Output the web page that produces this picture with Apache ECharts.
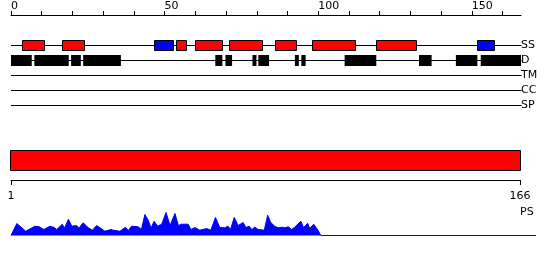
<!DOCTYPE html>
<html><head><meta charset="utf-8">
<script src="https://cdn.jsdelivr.net/npm/echarts@6/dist/echarts.min.js"></script>
<style>html,body{margin:0;padding:0;background:#fff}#c{width:550px;height:260px}</style>
</head><body><div id="c"></div>
<script>
// ---- data ----
const seqLength = 166;
const tracks = ['SS', 'D', 'TM', 'CC', 'SP'];
const topTicks = [0, 10, 20, 30, 40, 50, 60, 70, 80, 90, 100, 110, 120, 130, 140, 150, 160];
const topLabels = [0, 50, 100, 150];
const ssHelix = [[3.7, 10.7], [16.7, 23.6], [53.6, 57.0], [59.8, 68.7], [70.9, 81.6], [85.8, 92.7], [97.9, 111.9], [118.8, 131.8]];
const ssStrand = [[46.7, 52.7], [151.7, 157.1]];
const disorder = [[0, 6.75], [7.6, 18.8], [19.56, 22.73], [23.48, 35.77], [66.5, 68.8], [69.8, 71.96], [78.6, 79.9], [80.5, 84.0],
  [92.4, 93.7], [94.5, 95.9], [108.6, 118.9], [132.8, 136.9], [144.8, 151.8], [152.9, 166]];
const domainRange = [1, 166];
const domainLabels = [1, 166];
const psPos = [0, 1.9, 4.8, 7.8, 9.2, 10.7, 12.7, 14.1, 14.9, 16.7, 17.4, 18.7, 19.8, 21.4, 22.1, 23.5, 25.2, 26.5, 27.9, 30.6, 32.6, 33.3, 33.9, 35.5,
  37.3, 38.2, 39.3, 41.4, 42.5, 43.6, 44.7, 45.6, 46.6, 47.8, 49.1, 50.5, 51.8, 53.4, 54.5, 55.6, 57.7, 58.6, 59.9, 61.5, 63.7, 65.1, 66.6,
  68.0, 69.6, 70.7, 71.5, 72.7, 74.0, 75.6, 76.5, 77.6, 78.4, 79.4, 80.5, 82.5, 83.6, 84.6, 85.9, 87.0, 88.4, 89.2, 90.3, 91.4, 92.4, 93.0,
  94.4, 95.3, 96.6, 97.3, 98.6, 100.0, 100.9, 171];
const psVal = [0, 12, 4.3, 9.3, 8.7, 6, 9.3, 8, 6, 11.3, 7.3, 16.3, 9.3, 10, 7.3, 12.7, 7.7, 5.3, 10, 4.3, 6, 5.3, 4.3, 4.3,
  8.3, 5, 9.3, 8.7, 6, 21, 15.3, 7.3, 14.3, 9.3, 11.3, 23, 10, 22, 10, 11.3, 11.3, 6, 8, 5.3, 7, 5.3, 18,
  8, 7.7, 9.3, 6, 18, 10, 13, 8, 9.3, 6, 8.3, 6, 5.3, 20.3, 13, 9.3, 7.7, 8.3, 7.7, 8.7, 6, 8.3, 7,
  14.3, 7.7, 12.3, 7, 11.3, 5.3, 0, 0];

// ---- chart ----
const FONT = 'DejaVu Sans';
const chart = echarts.init(document.getElementById('c'), null, {renderer: 'canvas'});

function trackLine(params, api) {
  const a = api.coord([api.value(0), api.value(2)]);
  const b = api.coord([api.value(1), api.value(2)]);
  const y = Math.floor(a[1]) + 0.5;
  return {type: 'line', shape: {x1: a[0], y1: y, x2: b[0] + 0.5, y2: y}, style: {stroke: '#000', lineWidth: 1}};
}
function ssBox(params, api) {
  const a = api.coord([api.value(0), api.value(2)]);
  const b = api.coord([api.value(1), api.value(2)]);
  const cy = Math.floor(a[1]);
  const x = Math.round(a[0]) + 0.5, x2 = Math.round(b[0]) + 0.5;
  return {type: 'rect', shape: {x: x, y: cy - 4.5, width: x2 - x, height: 10},
    style: {fill: api.value(3) === 1 ? '#0000ff' : '#ff0000', stroke: '#000', lineWidth: 1}};
}
function dBox(params, api) {
  const a = api.coord([api.value(0), api.value(2)]);
  const b = api.coord([api.value(1), api.value(2)]);
  const cy = Math.floor(a[1]);
  return {type: 'rect', shape: {x: a[0], y: cy - 5, width: b[0] - a[0], height: 11}, style: {fill: '#000'}};
}
function domainBar(params, api) {
  const a = api.coord([api.value(0), 0.5]);
  const b = api.coord([api.value(1), 20.5]);
  const x = Math.round(a[0]) - 0.5, x2 = Math.round(b[0]) + 0.5;
  return {type: 'rect', shape: {x: x, y: a[1], width: x2 - x, height: b[1] - a[1]},
    style: {fill: '#ff0000', stroke: '#000', lineWidth: 1}};
}

const ssData = ssHelix.map(d => [d[0], d[1], 0, 0]).concat(ssStrand.map(d => [d[0], d[1], 0, 1]));
const dData = disorder.map(d => [d[0], d[1], 1]);
const lineData = tracks.map((t, i) => [0, seqLength, i]);

chart.setOption({
  animation: false,
  backgroundColor: '#fff',
  textStyle: {fontFamily: FONT},
  title: {text: 'PS', left: 520, top: 207, padding: 0,
    textStyle: {fontSize: 11, fontWeight: 'normal', color: '#000', fontFamily: FONT}},
  grid: [
    {left: 11, width: 510, top: 38, height: 75},
    {left: 11, width: 509, top: 150, height: 30},
    {left: 11, right: 14, top: 210.5, height: 25}
  ],
  xAxis: [
    {gridIndex: 0, type: 'value', position: 'top', offset: 23, min: 0, max: seqLength,
      axisLine: {show: true, onZero: false, lineStyle: {color: '#000', width: 1}},
      axisTick: {show: true, customValues: topTicks, length: 4, lineStyle: {color: '#000', width: 1}},
      axisLabel: {customValues: topLabels, align: 'left', margin: 3, color: '#000', fontSize: 11, fontFamily: FONT},
      splitLine: {show: false}},
    {gridIndex: 1, type: 'value', position: 'bottom', min: domainRange[0], max: domainRange[1],
      axisLine: {show: true, onZero: false, lineStyle: {color: '#000', width: 1}},
      axisTick: {show: true, customValues: domainLabels, length: 5, lineStyle: {color: '#000', width: 1}},
      axisLabel: {customValues: domainLabels, margin: 11, color: '#000', fontSize: 11, fontFamily: FONT},
      splitLine: {show: false}},
    {gridIndex: 2, type: 'value', min: 0, max: psPos[psPos.length - 1], show: false, splitLine: {show: false}}
  ],
  yAxis: [
    {gridIndex: 0, type: 'category', data: tracks, inverse: true, position: 'right',
      axisLine: {show: false}, axisTick: {show: false}, splitLine: {show: false},
      axisLabel: {margin: 0, color: '#000', fontSize: 11, fontFamily: FONT}},
    {gridIndex: 1, type: 'value', min: 0, max: 30, inverse: true, show: false, splitLine: {show: false}},
    {gridIndex: 2, type: 'value', min: 0, max: 25, show: false, splitLine: {show: false}}
  ],
  series: [
    {type: 'custom', xAxisIndex: 0, yAxisIndex: 0, renderItem: trackLine, encode: {x: [0, 1], y: 2}, data: lineData, z: 1},
    {type: 'custom', xAxisIndex: 0, yAxisIndex: 0, renderItem: ssBox, encode: {x: [0, 1], y: 2}, data: ssData, z: 2},
    {type: 'custom', xAxisIndex: 0, yAxisIndex: 0, renderItem: dBox, encode: {x: [0, 1], y: 2}, data: dData, z: 2},
    {type: 'custom', xAxisIndex: 1, yAxisIndex: 1, renderItem: domainBar, encode: {x: [0, 1]}, data: [domainRange], z: 2},
    {type: 'line', xAxisIndex: 2, yAxisIndex: 2, symbol: 'none', smooth: false,
      lineStyle: {color: '#0000ff', width: 1}, itemStyle: {color: '#0000ff'},
      areaStyle: {color: '#0000ff', opacity: 1},
      data: psPos.map((p, i) => [p, psVal[i]])}
  ]
});
</script>
</body></html>
